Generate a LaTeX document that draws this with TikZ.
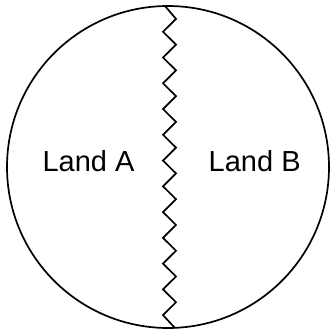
\documentclass[tikz,border=0pt]{standalone}
\usepackage{fontspec}
\setmainfont{Liberation Sans}
\usepackage{tikz}

\tikzset{
  land/.style={anchor=base, inner sep=0pt, font=\fontsize{29}{34}\selectfont},
  rim/.style={line width=1.7pt}
}

\begin{document}
\begin{tikzpicture}[x=1pt, y=-1pt]
    \useasboundingbox (0,0) rectangle (329,331);

    % Island outline
    \draw[rim] (168,167) circle (161pt);

    % Zigzag border, top to bottom
    \coordinate (north) at (165,6);
    \coordinate (south) at (175,328);
    \draw[rim, line join=miter] (north)
        \foreach \k in {0,...,11} { -- (176,{18.88+25.76*\k}) -- (163,{31.76+25.76*\k}) }
        -- (south);

    % Names of the two lands
    \node[land] (landA) at (88.5,171.7) {Land A};
    \node[land] (landB) at (254.7,171.7) {Land B};
\end{tikzpicture}
\end{document}
